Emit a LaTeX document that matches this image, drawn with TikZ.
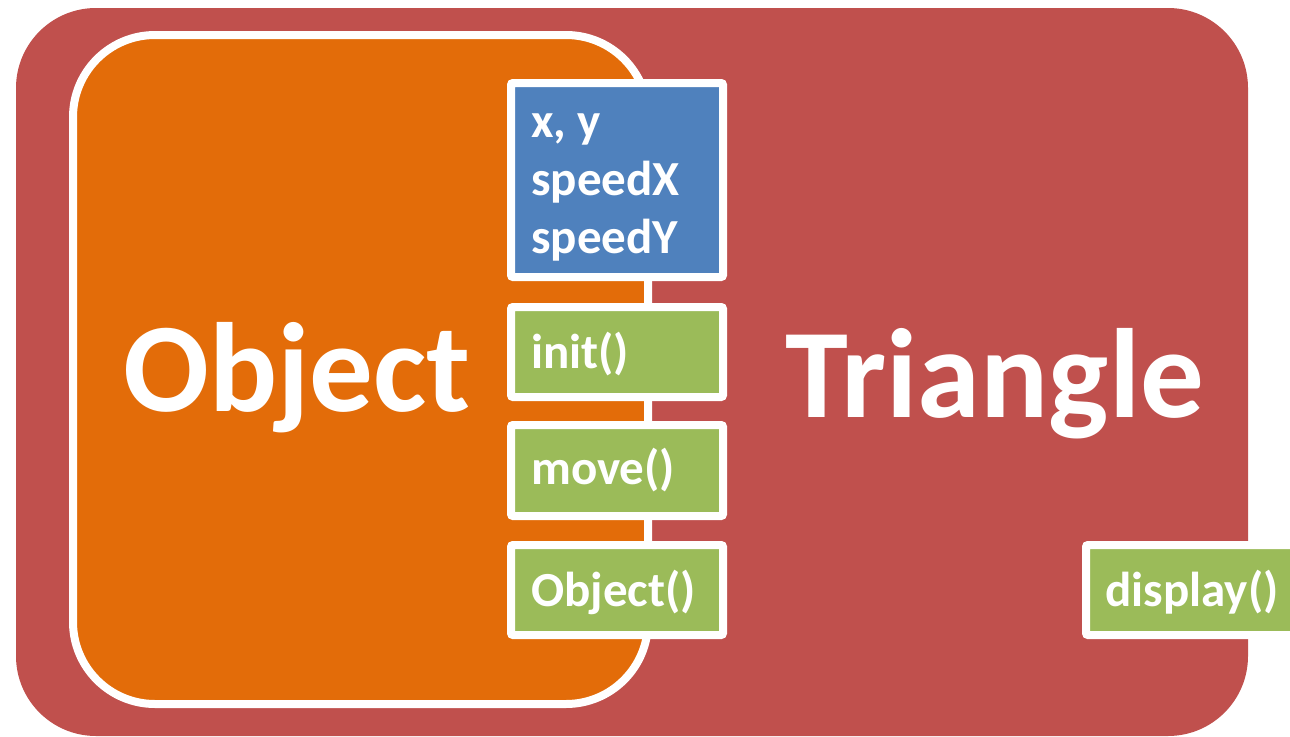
\documentclass[tikz,border=0pt]{standalone}
\usepackage{fontspec}
\setmainfont{Carlito}
\definecolor{redbg}{HTML}{C0504D}
\definecolor{orangebg}{HTML}{E36C09}
\definecolor{bluebg}{HTML}{4F81BD}
\definecolor{greenbg}{HTML}{9BBB59}
\begin{document}
\begin{tikzpicture}[x=1pt,y=-1pt,
  bigtxt/.style={text=white,font=\bfseries\fontsize{127}{127}\selectfont,anchor=base west,inner sep=0pt},
  smalltxt/.style={text=white,font=\bfseries\fontsize{49}{58}\selectfont,anchor=base west,inner sep=0pt},
  membox/.style={draw=white,line width=8pt,rounded corners=2pt}]
\useasboundingbox (0,0) rectangle (1290,736);
\clip (0,0) rectangle (1290,736);
% outer class
\fill[redbg,rounded corners=80pt] (16,8) rectangle (1248,736);
% inner class
\draw[white,fill=orangebg,line width=8pt,rounded corners=82pt] (73,35) rectangle (648,704);
% members
\draw[membox,fill=bluebg] (511,83) rectangle (723,277);
\draw[membox,fill=greenbg] (511,307) rectangle (723,397);
\draw[membox,fill=greenbg] (511,425) rectangle (723,516);
\draw[membox,fill=greenbg] (511,545) rectangle (723,635);
\draw[membox,fill=greenbg] (1086,545) rectangle (1310,635);
% labels
\node[bigtxt] (obj) at (123,411) {Object};
\node[bigtxt] (tri) at (785,417) {Triangle};
\node[smalltxt] (xy) at (531,137) {x, y};
\node[smalltxt] (sx) at (531,195) {speedX};
\node[smalltxt] (sy) at (531,253) {speedY};
\node[smalltxt] (init) at (531,368) {init()};
\node[smalltxt] (move) at (531,484) {move()};
\node[smalltxt] (ctor) at (531,606) {Object()};
\node[smalltxt] (disp) at (1105,606) {display()};
\end{tikzpicture}
\end{document}
